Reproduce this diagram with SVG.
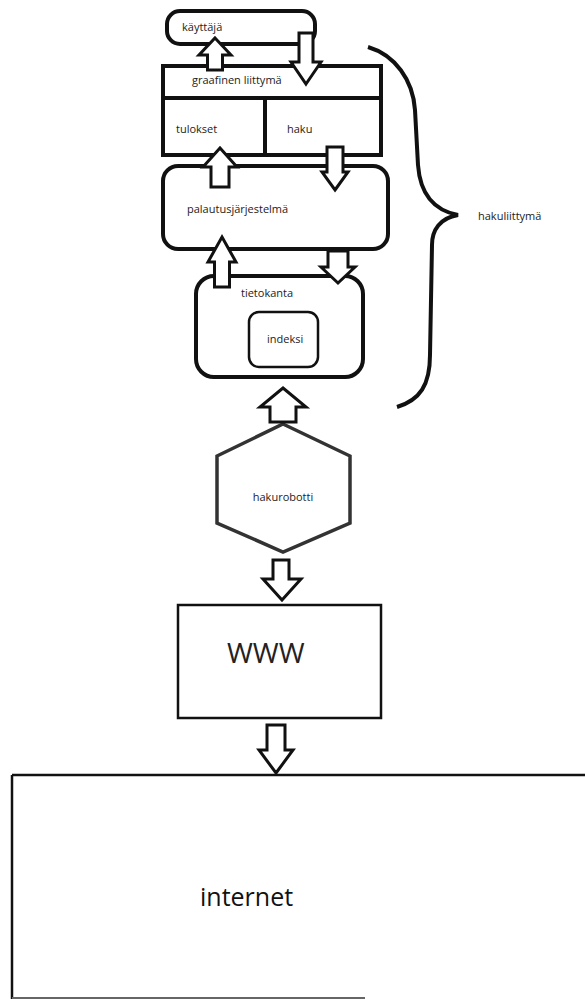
<svg xmlns="http://www.w3.org/2000/svg" width="585" height="999" viewBox="0 0 585 999">
<style>
.box{fill:#fff;stroke:#111;stroke-width:4}
.thin{fill:#fff;stroke:#111;stroke-width:2.5}
.arr{fill:#fff;stroke:#111;stroke-width:3;stroke-linejoin:miter}
.t{font-family:"Open Sans","Liberation Sans",sans-serif;font-size:11px;fill:#222}
</style>
<rect width="585" height="999" fill="#fff"/>
<g id="kayttaja">
<rect class="box" x="167" y="11" width="148" height="33" rx="13"/>
<text class="t" x="182" y="31">käyttäjä</text>
</g>
<g id="graafinen">
<rect class="box" x="163" y="66" width="218" height="89"/>
<line x1="163" y1="98" x2="381" y2="98" stroke="#111" stroke-width="4"/>
<text class="t" x="192" y="84">graafinen liittymä</text>
</g>
<g id="tulokset">
<text class="t" x="176" y="133">tulokset</text>
</g>
<g id="haku">
<line x1="265" y1="98" x2="265" y2="155" stroke="#111" stroke-width="4"/>
<text class="t" x="287" y="133">haku</text>
</g>
<g id="palautus">
<rect class="box" x="163" y="166" width="225" height="83" rx="15"/>
<text class="t" x="187" y="213">palautusjärjestelmä</text>
</g>
<g id="tietokanta">
<rect class="box" x="196" y="276" width="167" height="101" rx="18"/>
<text class="t" x="241" y="297">tietokanta</text>
</g>
<g id="indeksi">
<rect class="thin" x="249" y="312" width="69" height="55" rx="10" stroke-width="3"/>
<text class="t" x="267" y="343">indeksi</text>
</g>
<g id="hakuliittyma">
<path d="M368,47 C395,55 413,80 415,110 L418,165 C420,192 432,210 458,215 C440,218 432,230 432,245 L430,355 C430,385 420,400 397,407" fill="none" stroke="#111" stroke-width="4"/>
<text class="t" x="478" y="220">hakuliittymä</text>
</g>
<g id="hakurobotti">
<polygon points="283,424 350,456 350,523 283,552 217,523 217,456" fill="#fff" stroke="#333" stroke-width="3.5"/>
<text class="t" x="283" y="501" text-anchor="middle">hakurobotti</text>
</g>
<g id="www">
<rect class="thin" x="178" y="605" width="203" height="113"/>
<text x="227" y="663" font-family="'Open Sans','Liberation Sans',sans-serif" font-size="28" fill="#222">WWW</text>
</g>
<g id="internet">
<line x1="12" y1="775" x2="585" y2="775" stroke="#111" stroke-width="2.5"/>
<line x1="12" y1="775" x2="12" y2="999" stroke="#111" stroke-width="2.5"/>
<line x1="12" y1="998" x2="365" y2="998" stroke="#666" stroke-width="2"/>
<text x="200" y="906" font-family="'Open Sans','Liberation Sans',sans-serif" font-size="25" fill="#111">internet</text>
</g>
<g id="connectors">
<path class="arr" d="M215,38 L231,55 L222.5,55 L222.5,70 L207.5,70 L207.5,55 L199,55 Z"/>
<path class="arr" d="M306,84 L321,62 L313,62 L313,33 L299,33 L299,62 L291,62 Z"/>
<path class="arr" d="M220,148 L237,167 L229,167 L229,187 L211,187 L211,167 L203,167 Z"/>
<path class="arr" d="M335,190 L348,172 L343,172 L343,147 L327,147 L327,172 L322,172 Z"/>
<path class="arr" d="M222,237 L236,262 L229.5,262 L229.5,287 L214.5,287 L214.5,262 L208,262 Z"/>
<path class="arr" d="M338,283 L355,267 L348,267 L348,251 L328,251 L328,267 L321,267 Z"/>
<path class="arr" d="M283,388 L306,407 L296,407 L296,422 L270,422 L270,407 L260,407 Z"/>
<path class="arr" d="M282,600 L301,579 L289,579 L289,560 L273,560 L273,579 L263,579 Z"/>
<path class="arr" d="M276,773 L293,750 L285,750 L285,725 L267,725 L267,750 L259,750 Z"/>
</g>
</svg>
